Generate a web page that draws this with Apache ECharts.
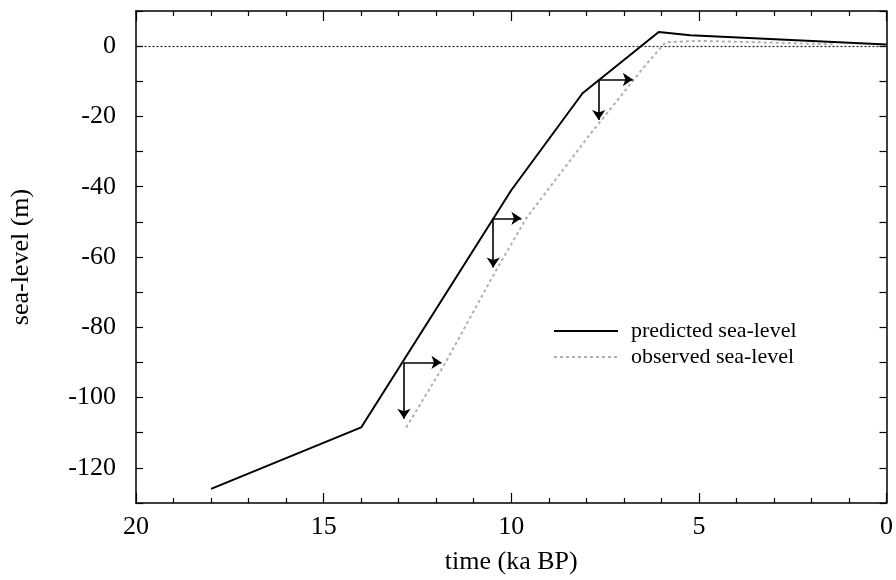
<!DOCTYPE html>
<html>
<head>
<meta charset="utf-8">
<script src="https://cdn.jsdelivr.net/npm/echarts@6/dist/echarts.min.js"></script>
<style>
  html, body { margin: 0; padding: 0; background: #fff; }
  #chart { width: 896px; height: 580px; }
</style>
</head>
<body>
<div id="chart"></div>
<script>
// Sea-level curves: time in ka BP, sea-level in metres
const predictedTime  = [18, 14, 10, 8.1, 6.07, 5.23, 0];
const predictedLevel = [-126, -108.5, -41, -13.4, 4, 3.1, 0.5];

const observedTime  = [12.8, 11.75, 10.4, 9.6, 7.96, 6.42, 5.89, 5.0, 3.0, 1.4];
const observedLevel = [-108.5, -90, -63.7, -49, -25.9, -5.4, 1.1, 1.5, 1.0, 0.5];

// Offset arrows: start point on predicted curve, time-shift end, level-shift end
const arrowTime      = [12.86, 10.48, 7.67];
const arrowLevel     = [-90, -49, -9.5];
const arrowTimeEnd   = [11.86, 9.73, 6.76];
const arrowLevelEnd  = [-106, -63, -21];

const xTicks = { min: 0, max: 20, interval: 5 };
const yTicks = { min: -130, max: 10, interval: 10, labelStep: 20 };

const seriesNames = ['predicted sea-level', 'observed sea-level'];

const zip = (a, b) => a.map((v, i) => [v, b[i]]);

const arrowLines = [];
arrowTime.forEach((t, i) => {
  arrowLines.push({ coords: [[t, arrowLevel[i]], [arrowTimeEnd[i], arrowLevel[i]]] });
  arrowLines.push({ coords: [[t, arrowLevel[i]], [t, arrowLevelEnd[i]]] });
});

const font = 'Liberation Serif';
const frame = { show: true, onZero: false, lineStyle: { color: '#000', width: 1.5 } };

const chart = echarts.init(document.getElementById('chart'), null, { renderer: 'canvas' });
chart.setOption({
  animation: false,
  backgroundColor: '#fff',
  textStyle: { fontFamily: font, color: '#000' },
  grid: { left: 133, right: 9, top: 11, bottom: 77 },
  legend: {
    data: seriesNames,
    orient: 'vertical',
    left: 548,
    top: 315,
    itemWidth: 64,
    itemHeight: 14,
    itemGap: 4,
    itemStyle: { opacity: 0 },
    textStyle: { fontFamily: font, fontSize: 22, color: '#000', lineHeight: 22, padding: [0, 0, 0, 8] }
  },
  xAxis: [
    {
      type: 'value', inverse: true,
      min: xTicks.min, max: xTicks.max, interval: xTicks.interval,
      name: 'time (ka BP)', nameLocation: 'middle', nameGap: 46,
      nameTextStyle: { fontFamily: font, fontSize: 26, color: '#000' },
      axisLine: frame,
      axisTick: { inside: true, length: 10, lineStyle: { color: '#000', width: 1.2 } },
      minorTick: { show: true, splitNumber: 5, length: 5, lineStyle: { color: '#000', width: 1.2 } },
      axisLabel: { fontFamily: font, fontSize: 26, color: '#000', margin: 11 },
      splitLine: { show: false }
    },
    {
      type: 'value', inverse: true, position: 'top',
      min: xTicks.min, max: xTicks.max, interval: xTicks.interval,
      axisLine: frame,
      axisTick: { inside: true, length: 10, lineStyle: { color: '#000', width: 1.2 } },
      minorTick: { show: true, splitNumber: 5, length: 5, lineStyle: { color: '#000', width: 1.2 } },
      axisLabel: { show: false },
      splitLine: { show: false }
    }
  ],
  yAxis: [
    {
      type: 'value',
      min: yTicks.min, max: yTicks.max, interval: yTicks.interval,
      name: 'sea-level (m)', nameLocation: 'middle', nameGap: 102, nameRotate: 90,
      nameTextStyle: { fontFamily: font, fontSize: 26, color: '#000' },
      axisLine: frame,
      axisTick: { inside: true, length: 7, lineStyle: { color: '#000', width: 1.2 } },
      axisLabel: {
        fontFamily: font, fontSize: 26, color: '#000', margin: 20,
        formatter: v => (v % yTicks.labelStep === 0 ? String(v) : '')
      },
      splitLine: { show: false }
    },
    {
      type: 'value', position: 'right',
      min: yTicks.min, max: yTicks.max, interval: yTicks.interval,
      axisLine: frame,
      axisTick: { inside: true, length: 7, lineStyle: { color: '#000', width: 1.2 } },
      axisLabel: { show: false },
      splitLine: { show: false }
    }
  ],
  series: [
    {
      name: seriesNames[0],
      type: 'line',
      data: zip(predictedTime, predictedLevel),
      symbol: 'none',
      lineStyle: { color: '#000', width: 2 },
      itemStyle: { color: '#000' },
      z: 5,
      markLine: {
        silent: true,
        symbol: ['none', 'none'],
        label: { show: false },
        lineStyle: { color: '#222', width: 1.2, type: [2, 2] },
        data: [{ yAxis: 0 }]
      }
    },
    {
      name: seriesNames[1],
      type: 'line',
      data: zip(observedTime, observedLevel),
      symbol: 'none',
      lineStyle: { color: '#b0b0b0', width: 2, type: [3, 3] },
      itemStyle: { color: '#b0b0b0' },
      z: 4
    },
    {
      type: 'lines',
      coordinateSystem: 'cartesian2d',
      data: arrowLines,
      symbol: ['none', 'arrow'],
      symbolSize: 10,
      lineStyle: { color: '#000', width: 1.6, opacity: 1, curveness: 0 },
      z: 6
    }
  ]
});
</script>
</body>
</html>
